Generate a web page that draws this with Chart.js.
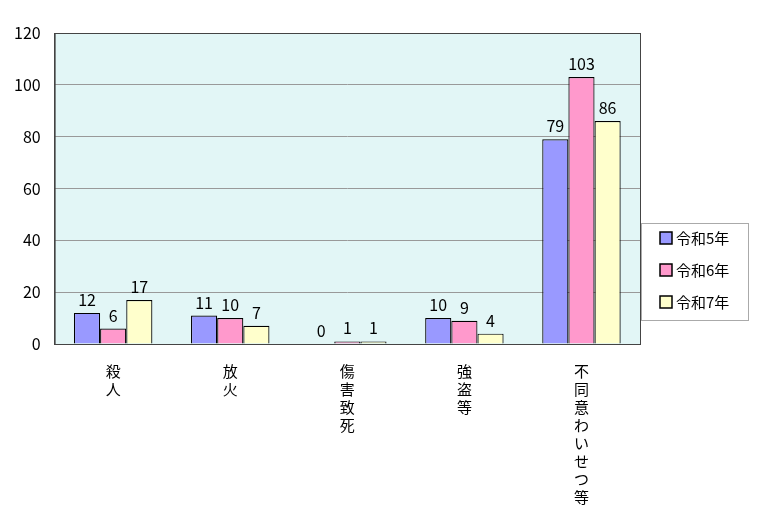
<!DOCTYPE html><html><head><meta charset="utf-8">
<script src="https://cdn.jsdelivr.net/npm/chart.js@4"></script>
<style>body{margin:0;background:#fff}#w{width:758px;height:521px}</style></head><body><div id="w"><canvas id="c"></canvas></div>
<script>
const categories=["殺人","放火","傷害致死","強盗等","不同意わいせつ等"];
const seriesNames=["令和5年","令和6年","令和7年"];
const r5=[12,11,0,10,79];
const r6=[6,10,1,9,103];
const r7=[17,7,1,4,86];
const colors=["#9999ff","#ff99cc","#ffffcc"];
const F="'Noto Sans CJK JP','DejaVu Sans',sans-serif";
const plug={id:'p',
beforeDraw(ch){const a=ch.chartArea,x=ch.ctx;x.save();x.fillStyle='#e2f6f6';x.fillRect(a.left,a.top,a.right-a.left,a.bottom-a.top);x.restore();},
afterDraw(ch){const x=ch.ctx;x.save();x.font="16px "+F;x.textAlign='center';x.textBaseline='bottom';x.fillStyle='#000';
ch.data.datasets.forEach((d,i)=>{ch.getDatasetMeta(i).data.forEach((b,j)=>{x.fillText(String(d.data[j]),b.x,b.y-5);});});
const a=ch.chartArea;x.strokeStyle='#444';x.lineWidth=1;x.strokeRect(a.left+0.5,a.top+0.5,a.right-a.left,a.bottom-a.top);
x.strokeStyle='#aaa';x.fillStyle='#fff';x.fillRect(641.5,223.5,107,97);x.strokeRect(641.5,223.5,107,97);
x.textAlign='left';x.textBaseline='middle';x.font="15px "+F;
seriesNames.forEach((n,i)=>{const y=238+i*32;x.fillStyle=colors[i];x.fillRect(660,y-6,12,12);x.strokeStyle='#000';x.lineWidth=1.5;x.strokeRect(660,y-6,12,12);x.fillStyle='#000';x.fillText(n,676,y);});
x.restore();}};
new Chart(document.getElementById('c'),{type:'bar',
data:{labels:categories.map(s=>s.split('')),datasets:[r5,r6,r7].map((d,i)=>({label:seriesNames[i],data:d,backgroundColor:colors[i],borderColor:'#000',borderWidth:1.2,categoryPercentage:0.67,barPercentage:1}))},
options:{responsive:true,maintainAspectRatio:false,animation:false,devicePixelRatio:1,
layout:{padding:{top:33,right:118,left:0,bottom:5}},
plugins:{legend:{display:false},tooltip:{enabled:false}},
scales:{x:{grid:{display:false},border:{color:'#444'},ticks:{color:'#000',font:{size:15,family:F,lineHeight:1.2},maxRotation:0,autoSkip:false,padding:10}},
y:{min:0,max:120,ticks:{stepSize:20,color:'#000',font:{size:16,family:F},padding:14},grid:{color:'#999',drawTicks:false},border:{color:'#444'}}}},
plugins:[plug]});
</script></body></html>
